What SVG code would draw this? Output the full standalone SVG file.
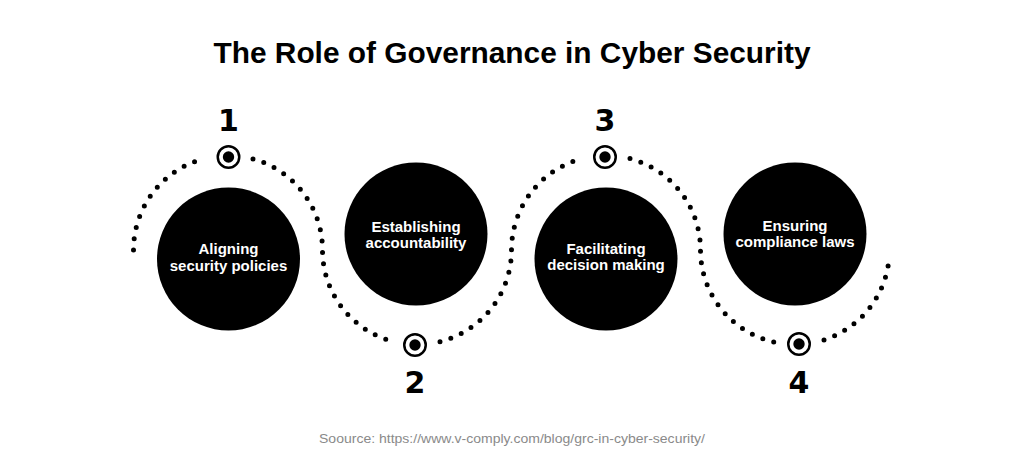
<svg xmlns="http://www.w3.org/2000/svg" width="1024" height="470" viewBox="0 0 1024 470">
<style>
.title{font-family:"Liberation Sans",Arial,sans-serif;font-weight:bold;font-size:29px;fill:#000}
.lbl{font-family:"Liberation Sans",Arial,sans-serif;font-weight:bold;font-size:15px;fill:#fff;text-anchor:middle}
.num{font-family:"DejaVu Sans",sans-serif;font-weight:bold;font-size:30px;fill:#000;text-anchor:middle}
.src{font-family:"Liberation Sans",Arial,sans-serif;font-size:13px;fill:#8a8a8a}
.dots{fill:none;stroke:#000;stroke-width:5;stroke-linecap:round;stroke-dasharray:0 11.4}
.ring{fill:#fff;stroke:#000;stroke-width:2.5}
.disc{fill:#000}
</style>
<rect width="1024" height="470" fill="#fff"/>
<text class="title" x="512" y="63" text-anchor="middle" textLength="597" lengthAdjust="spacingAndGlyphs">The Role of Governance in Cyber Security</text>
<g id="connectors">
<path class="dots" d="M133.5,250 A94.5,94.5 0 0 1 203,158.9"/>
<path class="dots" d="M253,158.9 A94.5,94.5 0 0 1 322.5,250 A94.5,94.5 0 0 0 390,340.6"/>
<path class="dots" d="M440,341.7 A94.5,94.5 0 0 0 511.5,250 A94.5,94.5 0 0 1 580,159.2"/>
<path class="dots" d="M630,158.6 A94.5,94.5 0 0 1 700.5,250 A94.5,94.5 0 0 0 774,342.1"/>
<path class="dots" d="M824,339.9 A94.5,94.5 0 0 0 888.7,262"/>
</g>
<g id="node1">
<circle class="disc" cx="228.5" cy="259" r="71.5"/>
<text class="lbl" x="228.5" y="254">Aligning</text>
<text class="lbl" x="228.5" y="271">security policies</text>
</g>
<g id="node2">
<circle class="disc" cx="416" cy="234" r="71.5"/>
<text class="lbl" x="416" y="232">Establishing</text>
<text class="lbl" x="416" y="248">accountability</text>
</g>
<g id="node3">
<circle class="disc" cx="606" cy="259" r="71.5"/>
<text class="lbl" x="606" y="254">Facilitating</text>
<text class="lbl" x="606" y="270">decision making</text>
</g>
<g id="node4">
<circle class="disc" cx="795" cy="234" r="71.5"/>
<text class="lbl" x="795" y="231">Ensuring</text>
<text class="lbl" x="795" y="247">compliance laws</text>
</g>
<g id="marker1">
<circle class="ring" cx="228.5" cy="157" r="10.75"/>
<circle class="disc" cx="228.5" cy="157" r="5.7"/>
<text class="num" x="228.5" y="131">1</text>
</g>
<g id="marker2">
<circle class="ring" cx="415" cy="345" r="10.75"/>
<circle class="disc" cx="415" cy="345" r="5.7"/>
<text class="num" x="415" y="393">2</text>
</g>
<g id="marker3">
<circle class="ring" cx="605" cy="157" r="10.75"/>
<circle class="disc" cx="605" cy="157" r="5.7"/>
<text class="num" x="605" y="131">3</text>
</g>
<g id="marker4">
<circle class="ring" cx="799" cy="344" r="10.75"/>
<circle class="disc" cx="799" cy="344" r="5.7"/>
<text class="num" x="799" y="393">4</text>
</g>
<text class="src" x="319" y="443" textLength="386" lengthAdjust="spacingAndGlyphs">Soource: https://www.v-comply.com/blog/grc-in-cyber-security/</text>
</svg>
